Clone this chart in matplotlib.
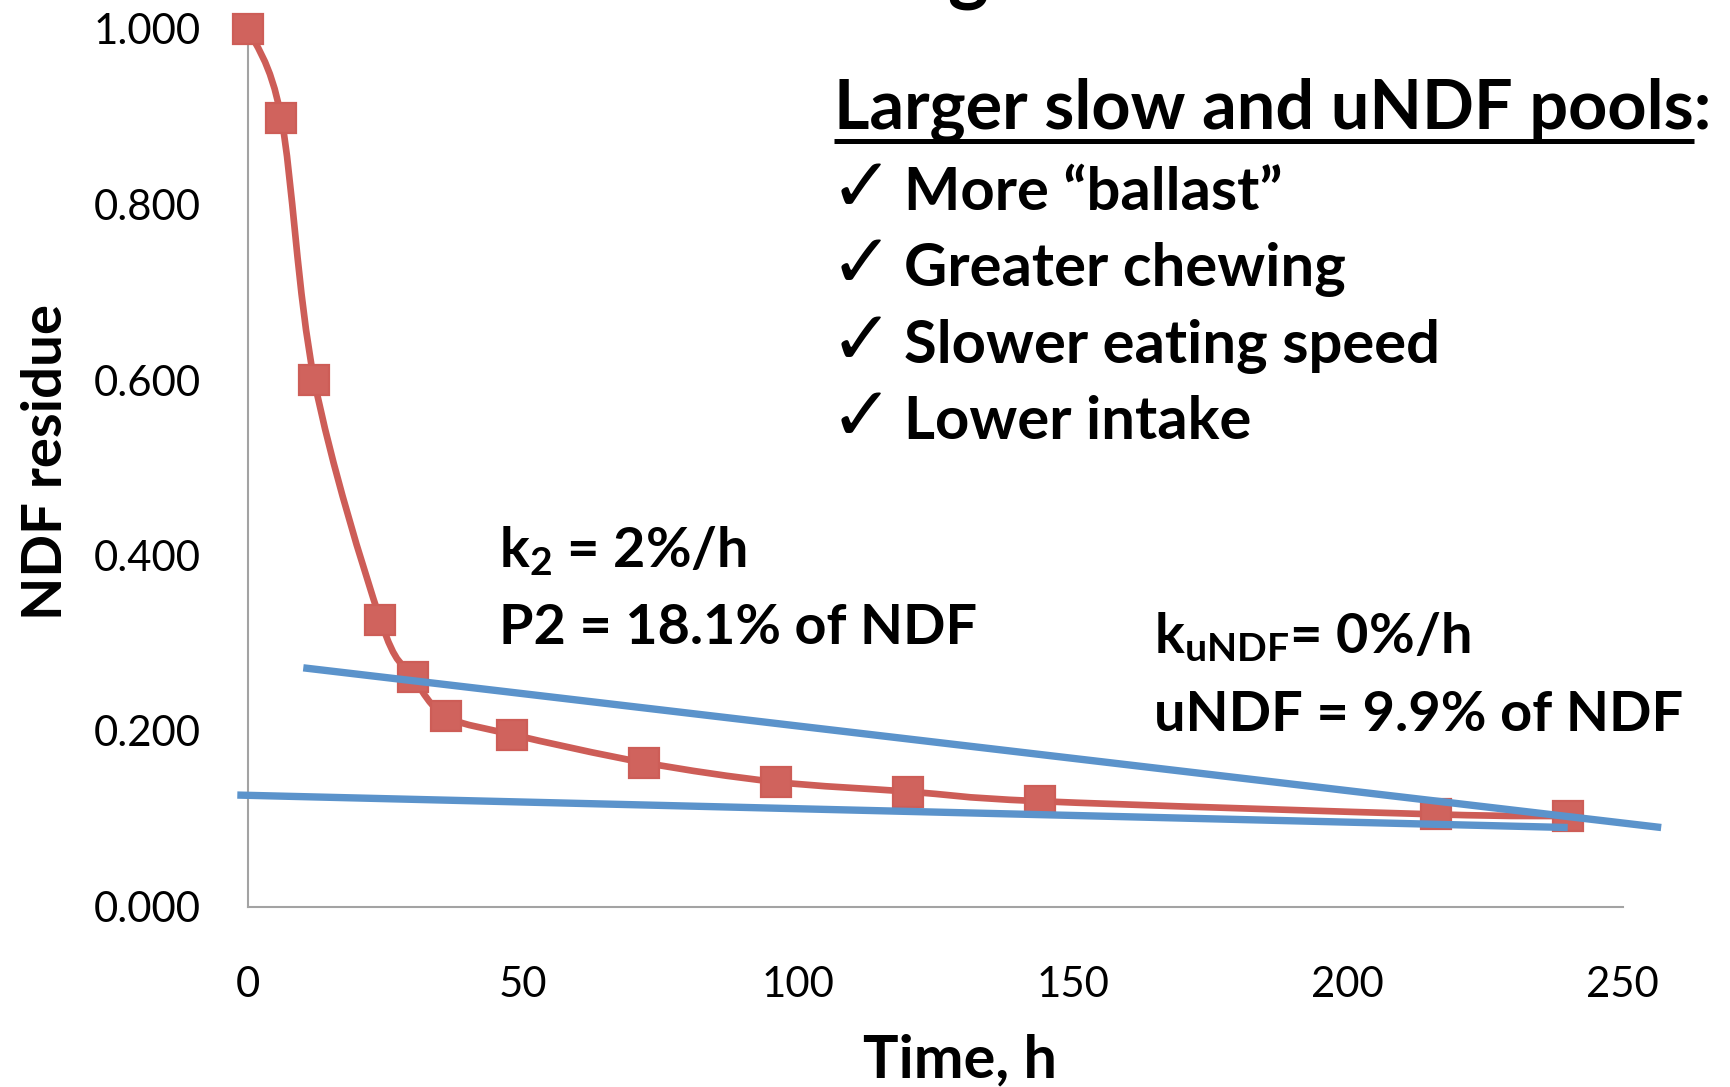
import numpy as np
import matplotlib
matplotlib.use("Agg")
import matplotlib.pyplot as plt
from matplotlib.path import Path
from matplotlib.patches import PathPatch
from matplotlib.lines import Line2D

# ---------------- data ----------------
time_h = [0, 6, 12, 24, 30, 36, 48, 72, 96, 120, 144, 216, 240]
ndf_residue = [1.000, 0.899, 0.600, 0.327, 0.261, 0.217, 0.196, 0.164,
               0.142, 0.131, 0.120, 0.105, 0.103]
slow_tangent_x = [10, 257]
slow_tangent_y = [0.272, 0.090]
undf_line_x = [-2, 240]
undf_line_y = [0.127, 0.090]
x_ticks = [0, 50, 100, 150, 200, 250]
y_ticks = [0.0, 0.2, 0.4, 0.6, 0.8, 1.0]
y_tick_labels = ["0.000", "0.200", "0.400", "0.600", "0.800", "1.000"]
header_text = "Larger slow and uNDF pools"
check_items = ["More \u201cballast\u201d", "Greater chewing",
               "Slower eating speed", "Lower intake"]
k2_text = "k$_2$ = 2%/h"
p2_text = "P2 = 18.1% of NDF"
kundf_text = "k$_{uNDF}$= 0%/h"
undf_text = "uNDF = 9.9% of NDF"

# ---------------- style ----------------
W, H = 1731, 1087
FONT = ["Lato", "DejaVu Sans"]
RED = "#CD5D57"
RED_FACE = "#D0635D"
BLUE = "#5B93CB"
AXIS_GRAY = "#A3A3A3"

plt.rcParams["font.family"] = FONT
plt.rcParams["mathtext.fontset"] = "custom"
plt.rcParams["mathtext.rm"] = "Lato:bold"
plt.rcParams["mathtext.it"] = "Lato:bold"
plt.rcParams["mathtext.bf"] = "Lato:bold"

fig = plt.figure(figsize=(W / 100, H / 100), dpi=100)
fig.patch.set_facecolor("white")


def fx(x):
    return x / W


def fy(y):
    return 1 - y / H


ax = fig.add_axes([fx(248.3), fy(906.5), fx(1622.7) - fx(248.3), fy(29) - fy(906.5)])
ax.set_xlim(0, 250)
ax.set_ylim(0, 1.0)
for s in ["top", "right"]:
    ax.spines[s].set_visible(False)
for s in ["left", "bottom"]:
    ax.spines[s].set_color(AXIS_GRAY)
    ax.spines[s].set_linewidth(1.5)
ax.set_xticks(x_ticks)
ax.set_yticks(y_ticks)
ax.set_yticklabels(y_tick_labels)
ax.tick_params(axis="both", length=0, labelsize=30, colors="black")
ax.tick_params(axis="x", pad=43)
ax.tick_params(axis="y", pad=34)

# smooth red curve (Catmull-Rom as cubic Bezier)
pts = np.column_stack([time_h, ndf_residue]).astype(float)
n = len(pts)
verts = [pts[0]]
codes = [Path.MOVETO]
for i in range(n - 1):
    p0 = pts[max(i - 1, 0)]
    p1 = pts[i]
    p2 = pts[i + 1]
    p3 = pts[min(i + 2, n - 1)]
    c1 = p1 + (p2 - p0) / 6.0
    c2 = p2 - (p3 - p1) / 6.0
    verts += [c1, c2, p2]
    codes += [Path.CURVE4] * 3
curve = PathPatch(Path(verts, codes), facecolor="none", edgecolor=RED,
                  linewidth=4.8, zorder=3, clip_on=False, capstyle="round")
ax.add_patch(curve)
ax.plot(time_h, ndf_residue, linestyle="none", marker="s", markersize=21.5,
        markerfacecolor=RED_FACE, markeredgecolor=RED, markeredgewidth=1.6,
        zorder=4, clip_on=False)

ax.plot(slow_tangent_x, slow_tangent_y, color=BLUE, linewidth=5.3,
        solid_capstyle="butt", zorder=5, clip_on=False)
ax.plot(undf_line_x, undf_line_y, color=BLUE, linewidth=5.3,
        solid_capstyle="butt", zorder=5, clip_on=False)

# ---------------- texts ----------------
title_frag = fig.text(fx(968), fy(-5), "g", fontsize=56, fontweight="bold",
                      ha="center", va="baseline")

header = fig.text(fx(834), fy(129), header_text + ":", fontsize=44,
                  fontweight="bold", ha="left", va="baseline")

checks = []
items = []
base_lines = [210, 286, 363, 439]
for lab, yb in zip(check_items, base_lines):
    c = fig.text(fx(830), fy(yb + 1), "\u2713", fontsize=36,
                 family=["DejaVu Sans"], ha="left", va="baseline")
    t = fig.text(fx(904), fy(yb), lab, fontsize=36, fontweight="bold",
                 ha="left", va="baseline")
    checks.append(c)
    items.append(t)

k2 = fig.text(fx(499), fy(567), k2_text, fontsize=36, fontweight="bold",
              ha="left", va="baseline")
p2 = fig.text(fx(499), fy(644), p2_text, fontsize=36, fontweight="bold",
              ha="left", va="baseline")
ku = fig.text(fx(1154), fy(653), kundf_text, fontsize=36, fontweight="bold",
              ha="left", va="baseline")
un = fig.text(fx(1154), fy(731), undf_text, fontsize=36, fontweight="bold",
              ha="left", va="baseline")

ylab = fig.text(fx(46), fy(462), "NDF residue", fontsize=36, fontweight="bold",
                rotation=90, ha="center", va="center")
xlab = fig.text(fx(960), fy(1077), "Time, h", fontsize=36, fontweight="bold",
                ha="center", va="baseline")

fig.canvas.draw()
r = fig.canvas.get_renderer()


def fit(t, target, use_height=False):
    for _ in range(3):
        bb = t.get_window_extent(r)
        w = bb.height if use_height else bb.width
        t.set_fontsize(t.get_fontsize() * target / w)
    return t.get_fontsize()


fit(header, 1711 - 834)
fs_items = fit(items[2], 1440 - 904)
for t in items:
    t.set_fontsize(fs_items)
fs_chk = fit(checks[0], 44) * 1.45
for c in checks:
    c.set_fontsize(fs_chk)
fs_p2 = fit(p2, 978 - 499)
k2.set_fontsize(fs_p2)
fs_un = fit(un, 1681 - 1154)
ku.set_fontsize(fs_un)
fit(ylab, 316, use_height=True)
fit(xlab, 194)

# tick label size
lab = ax.get_yticklabels()[-1]
bb = lab.get_window_extent(r)
ax.tick_params(axis="both", labelsize=30 * 107 / bb.width)

# underline under header (not under the colon)
tmp = fig.text(fx(834), fy(129), header_text, fontsize=header.get_fontsize(),
               fontweight="bold", ha="left", va="baseline")
bb = tmp.get_window_extent(r)
tmp.remove()
fig.add_artist(Line2D([bb.x0 / W, bb.x1 / W], [fy(141), fy(141)],
                      transform=fig.transFigure, color="black", linewidth=3.6,
                      solid_capstyle="butt"))

fig.savefig("out.png", dpi=100, facecolor="white")
